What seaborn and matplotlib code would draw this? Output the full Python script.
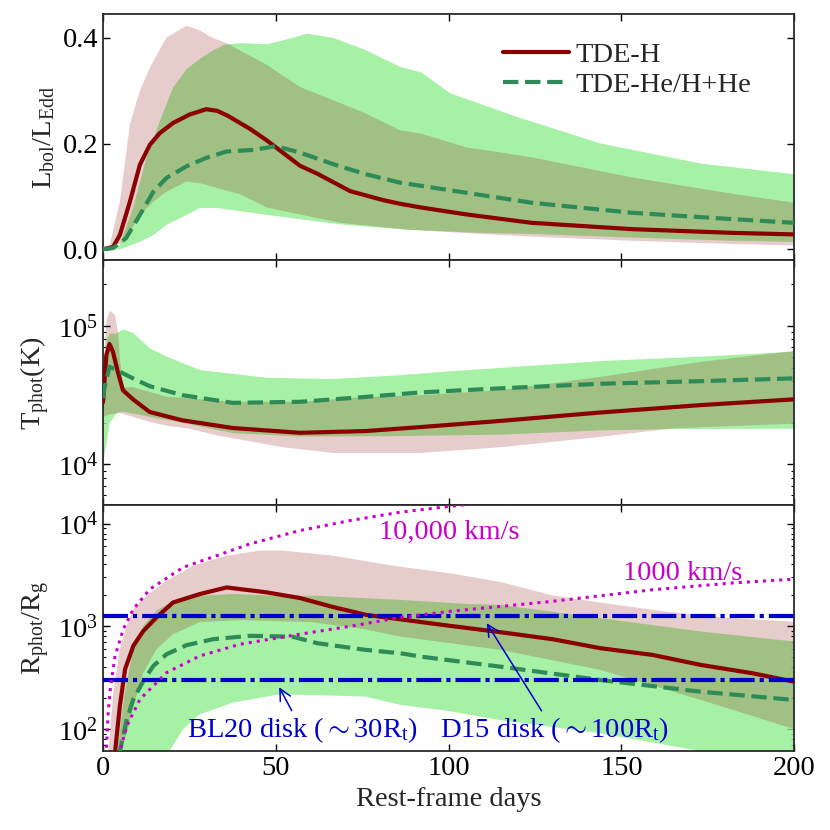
import numpy as np
import pandas as pd
import matplotlib
matplotlib.use("Agg")
import matplotlib.pyplot as plt
import seaborn as sns

# ---------------- data ----------------
# Panel 1: L_bol / L_Edd
L_H_days = [0, 2.9, 4.9, 7.8, 10.7, 13.6, 16.5, 20.3, 25.1, 29.9, 33, 36, 42.5, 47.4, 52, 57, 62, 71.5, 81, 86, 92, 105, 124, 153, 182, 200]
L_H = [0, 0.004, 0.027, 0.09, 0.16, 0.198, 0.22, 0.239, 0.255, 0.265, 0.262, 0.253, 0.228, 0.206, 0.183, 0.158, 0.143, 0.11, 0.093, 0.086, 0.079, 0.066, 0.05, 0.038, 0.031, 0.028]
L_He_days = [0, 2.9, 6.7, 10.7, 14.6, 18.4, 24.2, 29.9, 35.8, 43.5, 50, 57, 66.6, 76, 86, 92, 105, 124, 153, 182, 200]
L_He = [0, 0.002, 0.021, 0.065, 0.109, 0.135, 0.157, 0.173, 0.185, 0.188, 0.195, 0.183, 0.161, 0.142, 0.126, 0.12, 0.107, 0.088, 0.069, 0.057, 0.050]
L_H_hi_days = [0, 2, 4.9, 7.8, 10.7, 13.6, 18.4, 24.2, 28, 31.8, 35.8, 40, 47.4, 57, 66.6, 76, 86, 92, 105, 124, 153, 182, 200]
L_H_hi = [0, 0.008, 0.09, 0.236, 0.3, 0.344, 0.401, 0.423, 0.414, 0.4, 0.39, 0.375, 0.349, 0.307, 0.282, 0.257, 0.225, 0.219, 0.193, 0.174, 0.136, 0.105, 0.088]
L_H_lo_days = [0, 3, 6.7, 10.7, 14.6, 18.4, 24.2, 28, 33, 39.7, 47.4, 68.6, 88, 109, 124, 153, 182, 200]
L_H_lo = [0, 0.0, 0.02, 0.065, 0.09, 0.109, 0.128, 0.125, 0.116, 0.104, 0.079, 0.05, 0.037, 0.029, 0.024, 0.016, 0.01, 0.007]
L_He_hi_days = [0, 4.9, 8.7, 12.6, 16.5, 20.3, 24.2, 28, 31.8, 35, 40, 47.4, 52, 59, 66.6, 76, 86, 92, 100.5, 120, 144, 173, 200]
L_He_hi = [0, 0.008, 0.078, 0.173, 0.243, 0.306, 0.341, 0.36, 0.376, 0.387, 0.39, 0.388, 0.395, 0.408, 0.40, 0.377, 0.345, 0.335, 0.295, 0.25, 0.2, 0.162, 0.142]
L_He_lo_days = [0, 4.9, 10.7, 14.6, 18.4, 24.2, 28, 33, 39.7, 47.4, 68.6, 88, 109, 124, 153, 182, 200]
L_He_lo = [0, 0.0, 0.014, 0.027, 0.046, 0.065, 0.078, 0.078, 0.072, 0.065, 0.047, 0.037, 0.031, 0.029, 0.022, 0.016, 0.014]

# Panel 2: T_phot (K)
T_H_days = [0, 1, 1.9, 2.9, 4.3, 5.8, 8.7, 13.5, 23, 37.6, 57, 76, 92, 115, 144, 173, 200]
T_H = [28000, 61500, 74000, 65000, 46600, 34300, 29500, 23900, 20800, 18300, 16900, 17400, 18600, 20600, 23700, 26800, 29500]
T_He_days = [0, 0.5, 1.9, 3.9, 8.7, 13.5, 23, 37.6, 57, 76, 92, 115, 144, 173, 200]
T_He = [30000, 36000, 50700, 48000, 41800, 36700, 31600, 27800, 28300, 30700, 33100, 35400, 38200, 39900, 41800]
T_H_hi_days = [0, 1.1, 2, 3.5, 4.4, 5, 5.9, 8.8, 18.4, 37.6, 57, 76, 92, 115, 144, 173, 200]
T_H_hi = [45000, 110000, 129000, 120000, 88500, 55000, 36000, 36000, 30800, 28300, 28300, 30700, 31600, 34300, 42900, 55000, 66000]
T_H_lo_days = [0, 2, 5, 8.8, 13.5, 18.4, 25, 33, 52, 66.6, 92, 115, 144, 165, 200]
T_H_lo = [22000, 23000, 23500, 22000, 20300, 19000, 18100, 16200, 13300, 12100, 12100, 13300, 15800, 18200, 19700]
T_He_hi_days = [0, 1.1, 2, 3.9, 5.9, 8.7, 13.6, 18.4, 28, 47.4, 66.6, 86, 100.5, 144, 173, 200]
T_He_hi = [40000, 79000, 88000, 88000, 94500, 89000, 68800, 60000, 48000, 42200, 41300, 44100, 47000, 55700, 59900, 65200]
T_He_lo_days = [0, 1, 2, 4, 6, 8.7, 13.5, 23, 37.6, 57, 86, 115, 144, 165, 200]
T_He_lo = [10000, 14000, 20000, 23500, 24000, 23300, 22000, 20000, 16800, 15900, 16000, 16400, 17600, 18000, 18100]

# Panel 3: R_phot / R_g
R_H_days = [3.4, 4.9, 6.4, 8.8, 11.7, 15.5, 20.3, 28, 35.8, 47.4, 57, 66.6, 76, 86, 100.5, 115, 130, 144, 159, 173, 188, 200]
R_H = [55, 168, 382, 646, 903, 1220, 1707, 2060, 2390, 2140, 1885, 1540, 1295, 1170, 1010, 877, 750, 612, 527, 421, 349, 289]
R_He_days = [4.6, 6.9, 8.8, 11.7, 14.6, 18.4, 24.2, 31.9, 42.5, 50, 55, 62, 76, 86, 92, 115, 144, 173, 200]
R_He = [55, 124, 195, 294, 412, 535, 656, 750, 808, 800, 790, 685, 590, 547, 507, 405, 300, 231, 192]
R_H_hi_days = [1.5, 3, 4.9, 6.9, 8.8, 12.6, 18.4, 26.1, 35.8, 45.4, 52, 66.6, 81, 86, 100, 115, 130, 144, 163, 182, 200]
R_H_hi = [55, 226, 599, 1010, 1473, 1985, 2780, 3890, 4870, 5460, 5460, 4870, 4040, 3800, 3300, 2700, 2000, 1700, 1390, 1200, 1110]
R_H_lo_days = [4, 6.9, 8.8, 11.7, 15.5, 20.3, 28, 40, 60, 75, 86, 115, 144, 173, 200]
R_H_lo = [55, 90, 168, 354, 599, 839, 1100, 1150, 1100, 950, 795, 590, 376, 192, 100]
R_He_hi_days = [4, 6.3, 8.8, 11.7, 15.5, 20.3, 28, 37.6, 51, 62, 81, 86, 106, 115, 144, 173, 200]
R_He_hi = [55, 226, 599, 1010, 1415, 1775, 1985, 2060, 1985, 1985, 1840, 1810, 1645, 1620, 1200, 890, 711]
R_He_lo_days = [4.6, 18.4, 23.2, 28, 37.6, 51, 62, 76, 86, 100, 115, 144, 173, 200]
R_He_lo = [30, 55, 100, 139, 181, 218, 214, 207, 172, 150, 122, 91, 61, 45]

# expansion-velocity curves
v10k_days = [0.9, 1.5, 2.0, 3.5, 5.9, 8.8, 13.6, 23.2, 32.9, 42.5, 57, 71.5, 86, 98.4, 110]
v10k_R = [55, 140, 226, 515, 940, 1470, 2300, 3750, 4870, 6340, 8550, 10700, 12900, 14450, 16000]
v1k_days = [4.6, 6.9, 10.7, 18.4, 28, 39.7, 51.2, 57, 71.5, 86, 100.5, 130, 159, 182, 200]
v1k_R = [55, 107, 195, 354, 515, 670, 778, 839, 1000, 1220, 1400, 1750, 2270, 2640, 2880]

# disk radii (R_g)
disk_levels = [1270, 300]

# ---------------- style ----------------
FS = 20.5
sns.set_style("ticks")
plt.rcParams.update({
    "font.family": ["Liberation Serif", "DejaVu Serif"],
    "mathtext.fontset": "custom",
    "mathtext.rm": "Liberation Serif",
    "mathtext.it": "Liberation Serif:italic",
    "mathtext.bf": "Liberation Serif:bold",
    "font.size": FS,
    "xtick.direction": "in", "ytick.direction": "in",
    "xtick.top": True, "ytick.right": True,
    "xtick.major.size": 5, "ytick.major.size": 5,
    "xtick.minor.size": 2.5, "ytick.minor.size": 2.5,
    "xtick.major.width": 1, "ytick.major.width": 1,
    "xtick.minor.width": 0.8, "ytick.minor.width": 0.8,
    "axes.linewidth": 1.3, "axes.edgecolor": "#2a2a2a",
    "xtick.color": "black", "ytick.color": "black",
    "xtick.labelsize": FS, "ytick.labelsize": FS,
    "axes.labelsize": FS,
})

RED = "#8B0000"
GREEN = "#2E8B57"
GBAND = "#90EE90"
BLUE = "#0000CD"
MAG = "#C800C8"

fig, axes = plt.subplots(3, 1, figsize=(8.3, 8.3), dpi=100, sharex=True)
fig.subplots_adjust(left=0.124, right=0.957, top=0.983, bottom=0.095, hspace=0)


def band(ax, d_hi, v_hi, d_lo, v_lo, color, alpha):
    xs = list(d_hi) + list(d_lo)[::-1]
    ys = list(v_hi) + list(v_lo)[::-1]
    ax.fill(xs, ys, color=color, alpha=alpha, lw=0, zorder=1)


def line(ax, d, v, color, ls, label=None):
    df = pd.DataFrame({"day": d, "val": v})
    sns.lineplot(data=df, x="day", y="val", ax=ax, color=color, lw=3,
                 linestyle=ls, estimator=None, sort=False, legend=False,
                 label=label, zorder=3)


# Panel 1
ax = axes[0]
band(ax, L_He_hi_days, L_He_hi, L_He_lo_days, L_He_lo, GBAND, 0.8)
band(ax, L_H_hi_days, L_H_hi, L_H_lo_days, L_H_lo, RED, 0.2)
line(ax, L_H_days, L_H, RED, "-", "TDE-H")
line(ax, L_He_days, L_He, GREEN, "--", "TDE-He/H+He")
ax.set_ylim(-0.02, 0.445)
ax.set_yticks([0.0, 0.2, 0.4])
ax.set_yticklabels(["0.0", "0.2", "0.4"])
ax.set_ylabel(r"$\mathregular{L_{bol}/L_{Edd}}$")
ax.legend(loc="upper right", bbox_to_anchor=(0.975, 0.99), frameon=False,
          handlelength=2.3, labelspacing=0.15, handletextpad=0.25, fontsize=FS)

# Panel 2
ax = axes[1]
band(ax, T_He_hi_days, T_He_hi, T_He_lo_days, T_He_lo, GBAND, 0.8)
band(ax, T_H_hi_days, T_H_hi, T_H_lo_days, T_H_lo, RED, 0.2)
line(ax, T_H_days, T_H, RED, "-")
line(ax, T_He_days, T_He, GREEN, "--")
ax.set_yscale("log")
ax.set_ylim(5050, 3.0e5)
ax.set_ylabel(r"$\mathregular{T_{phot}(K)}$")

# Panel 3
ax = axes[2]
band(ax, R_He_hi_days, R_He_hi, R_He_lo_days, R_He_lo, GBAND, 0.8)
band(ax, R_H_hi_days, R_H_hi, R_H_lo_days, R_H_lo, RED, 0.2)
line(ax, R_H_days, R_H, RED, "-")
line(ax, R_He_days, R_He, GREEN, "--")
for lev in disk_levels:
    ax.axhline(lev, color=BLUE, lw=3, dashes=(6, 1.2, 1, 1.2), zorder=4)
sns.lineplot(x=v10k_days, y=v10k_R, ax=ax, color=MAG, lw=2.2, linestyle=":",
             estimator=None, sort=False, legend=False, zorder=5)
sns.lineplot(x=v1k_days, y=v1k_R, ax=ax, color=MAG, lw=2.2, linestyle=":",
             estimator=None, sort=False, legend=False, zorder=5)
ax.set_yscale("log")
ax.set_ylim(61, 1.5e4)
ax.set_ylabel(r"$\mathregular{R_{phot}/R_g}$")
ax.text(80, 7100, "10,000 km/s", color=MAG, fontsize=FS, ha="left", va="baseline")
ax.text(150.5, 2840, "1000 km/s", color=MAG, fontsize=FS, ha="left", va="baseline")
ax.text(24.3, 84, r"BL20 disk ($\sim$30R$_\mathregular{t}$)", color=BLUE, fontsize=FS,
        ha="left", va="baseline")
ax.text(97.5, 84, r"D15 disk ($\sim$100R$_\mathregular{t}$)", color=BLUE, fontsize=FS,
        ha="left", va="baseline")
ax.annotate("", xy=(50.6, 270), xytext=(55, 143),
            arrowprops=dict(arrowstyle="->", color=BLUE, lw=1.1), zorder=6)
ax.annotate("", xy=(110.6, 1130), xytext=(127.3, 143),
            arrowprops=dict(arrowstyle="->", color=BLUE, lw=1.1), zorder=6)

ax.set_xlim(0, 200)
ax.set_xticks([0, 50, 100, 150, 200])
ax.set_xlabel("Rest-frame days")
for a in axes[:2]:
    a.set_xlabel("")
for a in axes:
    a.tick_params(which="both", top=True, right=True, direction="in")
    a.set_xlim(0, 200)

fig.savefig("out.png", dpi=100)
